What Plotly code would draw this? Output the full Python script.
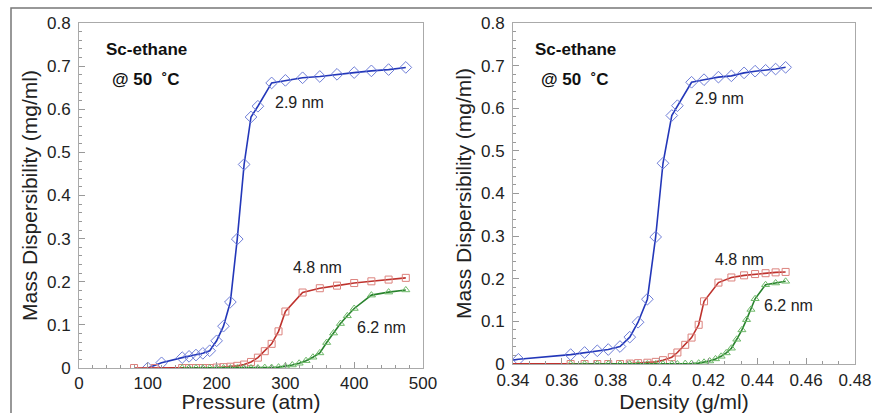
import plotly.graph_objects as go

# ---------------- data: left panel (pressure) ----------------
blue_p = [100, 120, 150, 160, 170, 180, 190, 200, 210, 220, 230, 240, 250, 260, 280,
          300, 325, 350, 375, 400, 425, 450, 475]
blue_y = [0.0, 0.012, 0.024, 0.027, 0.030, 0.034, 0.040, 0.063, 0.097, 0.153, 0.299, 0.472,
          0.582, 0.607, 0.661, 0.667, 0.673, 0.676, 0.681, 0.685, 0.689, 0.692, 0.697]

red_p = [80, 110, 150, 160, 170, 180, 190, 200, 210, 220, 230, 240, 250, 260, 270, 280, 290,
         300, 325, 350, 375, 400, 425, 450, 475]
red_y = [0.0, 0.0, 0.0, 0.0, 0.0, 0.0, 0.0, 0.001, 0.002, 0.003, 0.005, 0.008, 0.014, 0.024,
         0.039, 0.056, 0.085, 0.131, 0.175, 0.185, 0.191, 0.197, 0.201, 0.205, 0.209]

green_p = [150, 160, 170, 180, 190, 200, 210, 220, 230, 240, 250, 260, 270, 280, 290, 300,
           310, 320, 330, 340, 350, 360, 370, 380, 390, 400, 425, 450, 475]
green_y = [0.0, 0.0, 0.0, 0.0, 0.0, 0.0, 0.0, 0.0, 0.0, 0.0, 0.0, 0.0, 0.001, 0.001, 0.002,
           0.004, 0.007, 0.011, 0.017, 0.025, 0.035, 0.059, 0.081, 0.103, 0.121, 0.138,
           0.169, 0.176, 0.181]

# ---------------- data: right panel (density) ----------------
blue_d = [0.330, 0.3422, 0.3636, 0.3693, 0.3745, 0.3790, 0.3838, 0.3878, 0.3912, 0.3950,
          0.3984, 0.4014, 0.4050, 0.4073, 0.4131, 0.4182, 0.4241, 0.4294, 0.4346, 0.4391,
          0.4434, 0.4475, 0.4516]
blue_y2 = [0.0, 0.011, 0.022, 0.027, 0.031, 0.034, 0.041, 0.063, 0.098, 0.152, 0.298, 0.471,
           0.583, 0.606, 0.661, 0.667, 0.673, 0.676, 0.683, 0.687, 0.689, 0.692, 0.696]

red_d = [0.250, 0.337, 0.3636, 0.3693, 0.3745, 0.3790, 0.3838, 0.3878, 0.3912, 0.3950,
         0.3984, 0.4014, 0.4050, 0.4073, 0.4105, 0.4131, 0.4160, 0.4182, 0.4241, 0.4294,
         0.4346, 0.4391, 0.4434, 0.4475, 0.4516]
red_y2 = [0.0, 0.0, 0.0, 0.0, 0.0, 0.0, 0.0, 0.001, 0.002, 0.003, 0.005, 0.009, 0.016, 0.027,
          0.045, 0.062, 0.092, 0.147, 0.191, 0.203, 0.208, 0.211, 0.213, 0.215, 0.216]

green_d = [0.3636, 0.3693, 0.3745, 0.3790, 0.3838, 0.3878, 0.3912, 0.3950, 0.3984, 0.4014,
           0.4050, 0.4073, 0.4105, 0.4131, 0.4160, 0.4182, 0.4205, 0.4229, 0.4252, 0.4273,
           0.4294, 0.4316, 0.4337, 0.4356, 0.4374, 0.4391, 0.4434, 0.4475, 0.4516]
green_y2 = [0.0, 0.0, 0.0, 0.0, 0.0, 0.0, 0.0, 0.0, 0.0, 0.0, 0.0, 0.0, 0.001, 0.001, 0.002,
            0.004, 0.007, 0.012, 0.018, 0.026, 0.037, 0.058, 0.080, 0.104, 0.128, 0.153,
            0.186, 0.190, 0.194]

size_labels = ["2.9 nm", "4.8 nm", "6.2 nm"]
left_label_xy = [(320, 0.615), (346, 0.234), (440, 0.095)]
right_label_xy = [(0.4246, 0.622), (0.4328, 0.246), (0.4526, 0.138)]

y_ticks = [0, 0.1, 0.2, 0.3, 0.4, 0.5, 0.6, 0.7, 0.8]
x_ticks_left = [0, 100, 200, 300, 400, 500]
x_ticks_right = [0.34, 0.36, 0.38, 0.40, 0.42, 0.44, 0.46, 0.48]

# ---------------- styles ----------------
FONT = "Liberation Sans, Arial, sans-serif"
series_style = [
    dict(line="rgb(35,55,185)", marker="rgb(110,125,215)", symbol="diamond-open", size=9),
    dict(line="rgb(190,50,45)", marker="rgb(220,130,125)", symbol="square-open", size=7),
    dict(line="rgb(40,130,45)", marker="rgb(110,185,105)", symbol="triangle-up-open", size=7),
]

fig = go.Figure()

left_data = [(blue_p, blue_y), (red_p, red_y), (green_p, green_y)]
right_data = [(blue_d, blue_y2), (red_d, red_y2), (green_d, green_y2)]

for (xs, ys), st in zip(left_data, series_style):
    fig.add_trace(go.Scatter(
        x=xs, y=ys, mode="lines+markers", xaxis="x", yaxis="y",
        line=dict(color=st["line"], width=1.6),
        marker=dict(symbol=st["symbol"], size=st["size"], color=st["marker"],
                    line=dict(width=1, color=st["marker"])),
        showlegend=False, cliponaxis=True))

for (xs, ys), st in zip(right_data, series_style):
    fig.add_trace(go.Scatter(
        x=xs, y=ys, mode="lines+markers", xaxis="x2", yaxis="y2",
        line=dict(color=st["line"], width=1.6),
        marker=dict(symbol=st["symbol"], size=st["size"], color=st["marker"],
                    line=dict(width=1, color=st["marker"])),
        showlegend=False, cliponaxis=True))

W, H = 872, 413
axis_common = dict(
    showline=True, linecolor="#aaaaaa", linewidth=1, mirror=True,
    showgrid=False, zeroline=False, automargin=False,
    ticks="inside", ticklen=6, tickcolor="#999999", tickwidth=1,
    tickfont=dict(family=FONT, size=17, color="#222222"),
)

fig.update_layout(
    width=W, height=H,
    margin=dict(l=0, r=0, t=0, b=0),
    paper_bgcolor="white", plot_bgcolor="white",
    font=dict(family=FONT, color="#222222"),
    xaxis=dict(domain=[79 / W, 423 / W], anchor="y", range=[0, 500],
               tickvals=x_ticks_left, ticklabelstandoff=0,
               minor=dict(dtick=20, ticks="inside", ticklen=3, tickcolor="#999999"),
               title=dict(text="Pressure (atm)", font=dict(size=21), standoff=4),
               **axis_common),
    yaxis=dict(domain=[(H - 368) / H, (H - 23) / H], anchor="x", range=[0, 0.8],
               tickvals=y_ticks, ticklabelstandoff=4,
               minor=dict(dtick=0.02, ticks="inside", ticklen=3, tickcolor="#999999"),
               title=dict(text="Mass Dispersibility (mg/ml)", font=dict(size=21), standoff=3),
               **axis_common),
    xaxis2=dict(domain=[513 / W, 855 / W], anchor="y2", range=[0.34, 0.48],
                tickvals=x_ticks_right, ticklabelstandoff=1,
                minor=dict(dtick=0.02 / 3, tick0=0.34, ticks="inside", ticklen=3,
                           tickcolor="#999999"),
                title=dict(text="Density (g/ml)", font=dict(size=21), standoff=4),
                **axis_common),
    yaxis2=dict(domain=[(H - 364) / H, (H - 23) / H], anchor="x2", range=[0, 0.8],
                tickvals=y_ticks, ticklabelstandoff=4,
                minor=dict(dtick=0.02, ticks="inside", ticklen=3, tickcolor="#999999"),
                title=dict(text="Mass Dispersibility (mg/ml)", font=dict(size=21), standoff=3),
                **axis_common),
)

annotations = []
for txt, (lx, ly) in zip(size_labels, left_label_xy):
    annotations.append(dict(text=txt, x=lx, y=ly, xref="x", yref="y", showarrow=False,
                            font=dict(family=FONT, size=16, color="#222222")))
for txt, (lx, ly) in zip(size_labels, right_label_xy):
    annotations.append(dict(text=txt, x=lx, y=ly, xref="x2", yref="y2", showarrow=False,
                            font=dict(family=FONT, size=16, color="#222222")))

for x0, x1 in [(104, 110), (532.7, 538.7)]:
    annotations.append(dict(text="<b>Sc-ethane</b>", x=x0 / W, y=(H - 49) / H,
                            xref="paper", yref="paper", xanchor="left", yanchor="middle",
                            showarrow=False, font=dict(family=FONT, size=17, color="#111111")))
    annotations.append(dict(text="<b>@ 50  ˚C</b>", x=x1 / W, y=(H - 79) / H,
                            xref="paper", yref="paper", xanchor="left", yanchor="middle",
                            showarrow=False, font=dict(family=FONT, size=17, color="#111111")))
fig.update_layout(annotations=annotations)

# outer image frame
fig.add_shape(type="rect", xref="paper", yref="paper",
              x0=11 / W, x1=1.05, y0=-0.05, y1=(H - 8) / H,
              line=dict(color="#777777", width=1.5), fillcolor="rgba(0,0,0,0)")

# remove the default page margin so the 872x413 figure fills the window exactly
fig.write_html("out.html", config={"displayModeBar": False},
               post_script="document.body.style.margin='0';")
